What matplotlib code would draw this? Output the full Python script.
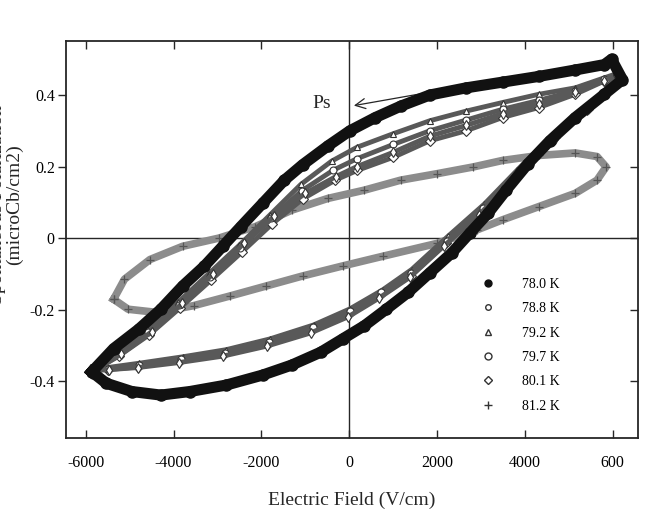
import numpy as np
import matplotlib
matplotlib.use("Agg")
from matplotlib import pyplot as plt
from matplotlib.lines import Line2D

plt.rcParams['font.family'] = ['Liberation Serif', 'DejaVu Serif']
plt.rcParams['axes.unicode_minus'] = False

# each loop: upper branch (left -> right) then lower branch (right -> left)
# 78.0 K (filled circles)
field_780 = [-5862, -5365, -4786, -4289, -3792, -3295, -2881, -2467, -1971, -1474, -1060, -480, 17, 596,
             1176, 1838, 2666, 3494, 4322, 5150, 5813, 5978, 6227,
             5813, 5150, 4571, 4074, 3577, 3163, 2749, 2335, 1838, 1341, 845, 348, -149, -646, -1308,
             -1971, -2799, -3627, -4289, -4951, -5531, -5862]
pol_780 = [-0.374, -0.309, -0.254, -0.199, -0.134, -0.078, -0.023, 0.032, 0.097, 0.162, 0.205, 0.258, 0.300, 0.337,
           0.369, 0.400, 0.420, 0.436, 0.452, 0.470, 0.485, 0.500, 0.443,
           0.402, 0.337, 0.272, 0.208, 0.134, 0.069, 0.014, -0.042, -0.097, -0.152, -0.199, -0.245, -0.282, -0.319, -0.355,
           -0.383, -0.411, -0.429, -0.439, -0.429, -0.406, -0.374]

# 78.8 K
field_788 = [-5800, -5250, -4550, -3850, -3150, -2450, -1750, -1050, -315, 182, 1010, 1838, 2666, 3494, 4322, 5150, 5813, 6100,
             5900, 5450, 4700, 3850, 3000, 2200, 1400, 700, 0, -850, -1850, -2850, -3850, -4800, -5500, -5800]
pol_788 = [-0.370, -0.330, -0.270, -0.195, -0.118, -0.040, 0.040, 0.110, 0.162, 0.189, 0.226, 0.272, 0.300, 0.337, 0.365, 0.402, 0.439, 0.452,
           0.418, 0.362, 0.282, 0.180, 0.075, -0.015, -0.105, -0.160, -0.212, -0.258, -0.296, -0.325, -0.343, -0.360, -0.368, -0.370]

# 79.2 K
field_792 = [-5850, -5300, -4600, -3900, -3200, -2500, -1800, -1100, -400, 182, 1010, 1838, 2666, 3494, 4322, 5150, 5813, 6150,
             5950, 5500, 4736, 3908, 3080, 2252, 1424, 762, 17, -811, -1805, -2799, -3792, -4786, -5500, -5850]
pol_792 = [-0.372, -0.318, -0.255, -0.180, -0.100, -0.020, 0.065, 0.150, 0.215, 0.254, 0.292, 0.328, 0.355, 0.379, 0.402, 0.420, 0.448, 0.462,
           0.425, 0.375, 0.298, 0.200, 0.095, 0.005, -0.088, -0.145, -0.198, -0.243, -0.282, -0.312, -0.332, -0.350, -0.362, -0.372]

# 79.7 K
field_797 = [-5820, -5280, -4580, -3880, -3180, -2480, -1780, -1080, -360, 182, 1010, 1838, 2666, 3494, 4322, 5150, 5813, 6120,
             5920, 5470, 4720, 3880, 3040, 2230, 1410, 730, 10, -830, -1830, -2820, -3820, -4790, -5500, -5820]
pol_797 = [-0.372, -0.322, -0.262, -0.188, -0.108, -0.028, 0.055, 0.132, 0.190, 0.222, 0.262, 0.300, 0.330, 0.360, 0.385, 0.412, 0.444, 0.458,
           0.422, 0.368, 0.290, 0.190, 0.085, -0.008, -0.097, -0.152, -0.205, -0.250, -0.290, -0.320, -0.338, -0.356, -0.365, -0.372]

# 80.1 K
field_801 = [-5780, -5200, -4500, -3800, -3100, -2400, -1700, -1000, -300, 182, 1010, 1838, 2666, 3494, 4322, 5150, 5813, 6080,
             5880, 5420, 4680, 3820, 2960, 2160, 1380, 680, -20, -870, -1870, -2870, -3870, -4810, -5480, -5780]
pol_801 = [-0.368, -0.325, -0.262, -0.182, -0.100, -0.015, 0.062, 0.125, 0.172, 0.200, 0.240, 0.285, 0.315, 0.348, 0.375, 0.408, 0.440, 0.455,
           0.415, 0.358, 0.278, 0.172, 0.065, -0.022, -0.110, -0.168, -0.220, -0.265, -0.302, -0.330, -0.348, -0.362, -0.368, -0.368]

# 81.2 K (plus)
field_812 = [-5365, -5117, -4537, -3792, -2964, -2136, -1308, -480, 348, 1176, 2004, 2832, 3494, 4322, 5150, 5647, 5854,
             5647, 5150, 4322, 3494, 2915, 2000, 762, -149, -1060, -1888, -2716, -3544, -4372, -5034, -5365]
pol_812 = [-0.171, -0.115, -0.060, -0.023, 0.0, 0.032, 0.078, 0.111, 0.134, 0.162, 0.180, 0.199, 0.217, 0.231, 0.238, 0.228, 0.199,
           0.162, 0.125, 0.088, 0.051, 0.023, -0.015, -0.051, -0.078, -0.106, -0.134, -0.162, -0.189, -0.208, -0.199, -0.171]

temps = ['78.0 K', '78.8 K', '79.2 K', '79.7 K', '80.1 K', '81.2 K']

x_ticks = [-6000, -4000, -2000, 0, 2000, 4000, 6000]
x_labels = ['-6000', '-4000', '-2000', '0', '2000', '4000', '600']
y_ticks = [-0.4, -0.2, 0, 0.2, 0.4]
y_labels = ['-0.4', '-0.2', '0', '0.2', '0.4']

ink = '#262626'

fig = plt.figure(figsize=(6.5, 5.17), dpi=100)
ax = fig.add_axes([0.1015, 0.1528, 0.88, 0.7679])

ax.axhline(0, color=ink, lw=1.0, zorder=1)
ax.axvline(0, color=ink, lw=1.0, zorder=1)

# 81.2 K band of crosses
ax.plot(field_812, pol_812, color='#8c8c8c', lw=5.5, solid_joinstyle='round', zorder=2)
ax.plot(field_812, pol_812, ls='none', marker='+', ms=6, mew=0.9, color='#555555', zorder=2)

# open marker loops
for fx, py, mk in [(field_788, pol_788, 'D'), (field_792, pol_792, '^'),
                   (field_797, pol_797, 'o'), (field_801, pol_801, 'd')]:
    ax.plot(fx, py, color='#595959', lw=3.5, solid_joinstyle='round', zorder=3)
    ax.plot(fx, py, ls='none', marker=mk, ms=5, mfc='white', mec='#333333', mew=0.8, zorder=3)

# 78.0 K filled band
ax.plot(field_780, pol_780, color='#111111', lw=8, solid_joinstyle='round', zorder=4)
ax.plot(field_780, pol_780, ls='none', marker='o', ms=8, color='#111111', zorder=4)

ax.set_xlim(-6450, 6580)
ax.set_ylim(-0.559, 0.551)
ax.set_xticks(x_ticks)
ax.set_xticklabels(x_labels)
ax.set_yticks(y_ticks)
ax.set_yticklabels(y_labels)
ax.tick_params(axis='x', direction='in', top=True, length=6, width=1, color=ink, labelsize=11.5, pad=12)
ax.tick_params(axis='y', direction='out', length=6, width=1, color=ink, labelsize=11.5, pad=2)
for s in ax.spines.values():
    s.set_color(ink)
    s.set_linewidth(1.3)

ax2 = ax.twinx()
ax2.set_ylim(ax.get_ylim())
ax2.set_yticks(y_ticks)
ax2.tick_params(direction='in', length=6, width=1, color=ink, labelright=False)
for s in ax2.spines.values():
    s.set_visible(False)

ax.set_xlabel('Electric Field (V/cm)', fontsize=14, color=ink, labelpad=15)
fig.text(0.009, 1 - 205 / 517, 'Spontaneous Polarization\n(microCb/cm2)', rotation=90,
         ha='center', va='center', fontsize=14, color=ink, multialignment='center', linespacing=1.0)

ax.annotate('', xy=(46, 0.369), xytext=(1845, 0.408),
            arrowprops=dict(arrowstyle='->', lw=0.9, color=ink, mutation_scale=18))
ax.text(-620, 0.376, 'Ps', fontsize=14, ha='center', va='center', color=ink)

handles = [Line2D([], [], ls='none', marker='o', ms=5, color='#111111'),
           Line2D([], [], ls='none', marker='o', ms=4, mfc='white', mec='#333333', mew=1),
           Line2D([], [], ls='none', marker='^', ms=4.5, mfc='white', mec='#333333', mew=1),
           Line2D([], [], ls='none', marker='o', ms=5, mfc='white', mec='#333333', mew=1),
           Line2D([], [], ls='none', marker='D', ms=4, mfc='white', mec='#333333', mew=1),
           Line2D([], [], ls='none', marker='+', ms=6, color='#333333', mew=1)]
ax.legend(handles, temps, loc='upper left', bbox_to_anchor=(0.704, 0.435), frameon=False,
          fontsize=10, handletextpad=1.95, labelspacing=0.82, handlelength=1.0)

fig.savefig('out.png', dpi=100)
